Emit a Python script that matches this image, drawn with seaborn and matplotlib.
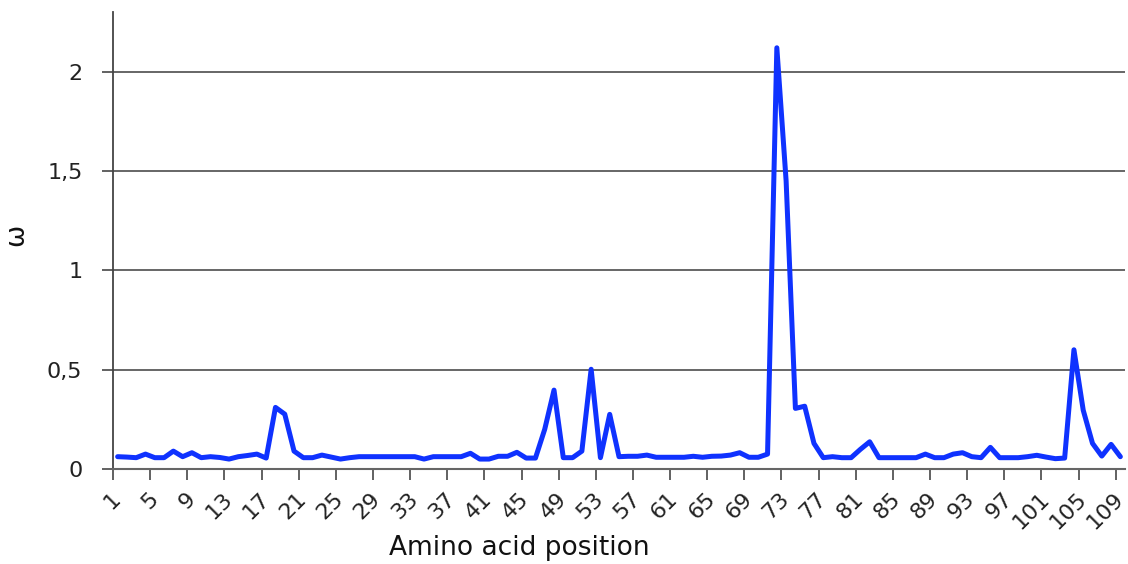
import seaborn as sns
import matplotlib
matplotlib.use('Agg')
import matplotlib.pyplot as plt
import numpy as np
import pandas as pd

# omega per amino acid position
position = list(range(1, 110))
omega = [0.062, 0.060, 0.057, 0.075, 0.057, 0.057, 0.090, 0.062, 0.082, 0.057,
         0.062, 0.058, 0.050, 0.062, 0.068, 0.075, 0.055, 0.310, 0.276, 0.090,
         0.057, 0.057, 0.070, 0.060, 0.050, 0.057, 0.062, 0.062, 0.062, 0.062,
         0.062, 0.062, 0.062, 0.050, 0.062, 0.062, 0.062, 0.062, 0.079, 0.050,
         0.050, 0.064, 0.064, 0.084, 0.055, 0.055, 0.200, 0.397, 0.057, 0.057,
         0.090, 0.502, 0.057, 0.275, 0.062, 0.064, 0.064, 0.070, 0.059, 0.059,
         0.059, 0.059, 0.064, 0.059, 0.064, 0.065, 0.070, 0.082, 0.059, 0.059,
         0.075, 2.120, 1.450, 0.305, 0.316, 0.129, 0.057, 0.062, 0.057, 0.057,
         0.099, 0.137, 0.057, 0.057, 0.057, 0.057, 0.057, 0.075, 0.057, 0.057,
         0.075, 0.082, 0.062, 0.057, 0.109, 0.057, 0.057, 0.057, 0.062, 0.069,
         0.060, 0.052, 0.055, 0.600, 0.296, 0.129, 0.065, 0.124, 0.062]

x_label_pos = list(range(1, 110, 4))
x_labels = [str(p) for p in x_label_pos]
y_ticks = [0, 0.5, 1, 1.5, 2]
y_labels = ['0', '0,5', '1', '1,5', '2']

sns.set_style('white')
plt.rcParams['font.family'] = ['DejaVu Sans']

fig = plt.figure(figsize=(11.28, 5.64), dpi=100)
ax = fig.add_axes([113/1128, 1-469/564, 1012/1128, 457/564])

df = pd.DataFrame({'pos': position, 'omega': omega})
sns.lineplot(data=df, x='pos', y='omega', color='#0f32ff', lw=3.6, ax=ax)

ax.set_xlim(0.5, 109.5)
ax.set_ylim(0, 2.3)
ax.set_yticks(y_ticks)
ax.set_yticklabels(y_labels, fontsize=16, color='#222222')
ax.yaxis.grid(True, color='#5a5a5a', lw=1.3)
ax.set_axisbelow(True)

# ticks sit between categories, labels on the category itself
ax.set_xticks(np.arange(0.5, 109, 4))
ax.set_xticklabels([])
ax.set_xticks(x_label_pos, minor=True)
ax.set_xticklabels(x_labels, minor=True, rotation=45, ha='right', va='center',
                   rotation_mode='anchor', fontsize=16, color='#222222')
ax.tick_params(axis='x', which='major', direction='out', length=8, width=1.3, color='#555555', bottom=True)
ax.tick_params(axis='x', which='minor', length=0, pad=19, bottom=True)
ax.tick_params(axis='y', direction='out', length=8, width=1.3, color='#555555', left=True, pad=14)

for s in ['top', 'right']:
    ax.spines[s].set_visible(False)
ax.spines['left'].set_color('#444444')
ax.spines['bottom'].set_color('#666666')
ax.spines['left'].set_linewidth(1.3)
ax.spines['bottom'].set_linewidth(1.5)

ax.set_xlabel('Amino acid position', fontsize=19, color='#111111')
ax.xaxis.set_label_coords((519-113)/1012, -(535-469)/457)
ax.set_ylabel('\u03c9', fontsize=19, color='#111111', rotation=90)
ax.yaxis.set_label_coords((29-113)/1012, (469-235)/457)

plt.savefig('out.png', dpi=100)
